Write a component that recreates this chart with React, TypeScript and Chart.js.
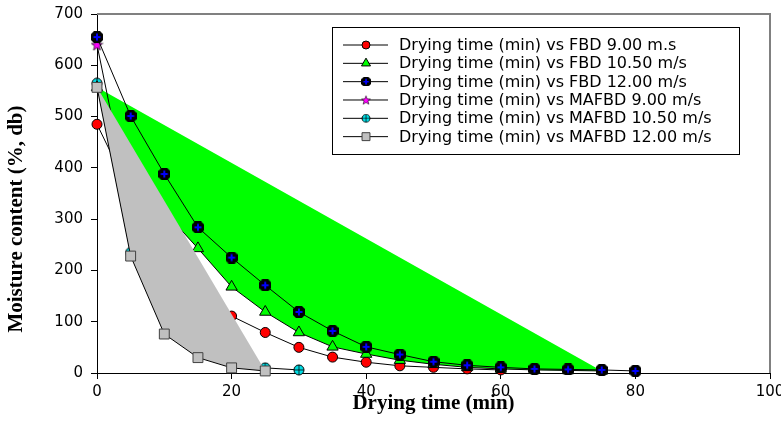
import React, { useEffect, useRef } from 'react';
import { Chart, registerables } from 'chart.js';
import { drawPoint } from 'chart.js/helpers';

Chart.register(...registerables);

// ---- data ----
const SERIES_LABELS = [
  'Drying time (min) vs FBD 9.00 m.s',
  'Drying time (min) vs FBD 10.50 m/s',
  'Drying time (min) vs FBD 12.00 m/s',
  'Drying time (min) vs MAFBD 9.00 m/s',
  'Drying time (min) vs MAFBD 10.50 m/s',
  'Drying time (min) vs MAFBD 12.00 m/s',
];

const TIME_FBD_9 = [0, 5, 10, 15, 20, 25, 30, 35, 40, 45, 50, 55, 60];
const FBD_9 = [485, 350, 230, 155, 111, 79, 50, 31, 21, 14, 11, 8, 6];

const TIME_FBD_10_5 = [0, 5, 10, 15, 20, 25, 30, 35, 40, 45, 50, 55, 60, 65, 70, 75];
const FBD_10_5 = [557, 410, 315, 243, 168, 119, 79, 51, 37, 25, 17, 11, 8, 6, 5, 4];

const TIME_FBD_12 = [0, 5, 10, 15, 20, 25, 30, 35, 40, 45, 50, 55, 60, 65, 70, 75, 80];
const FBD_12 = [655, 501, 388, 284, 225, 171, 119, 82, 51, 36, 22, 15, 11, 8, 7, 6, 4];

const TIME_MAFBD_9 = [0, 5, 10, 15, 20];
const MAFBD_9 = [640, 320, 170, 90, 45];

const TIME_MAFBD_10_5 = [0, 5, 10, 15, 20, 25, 30];
const MAFBD_10_5 = [565, 235, 110, 55, 25, 10, 6];

const TIME_MAFBD_12 = [0, 5, 10, 15, 20, 25];
const MAFBD_12 = [557, 228, 76, 30, 10, 4];

const X_MIN = 0, X_MAX = 100, X_STEP = 20;
const Y_MIN = 0, Y_MAX = 700, Y_STEP = 100;
const X_TITLE = 'Drying time (min)';
const Y_TITLE = 'Moisture content (%, db)';

// ---- marker images ----
function makeCanvas(size: number, draw: (ctx: CanvasRenderingContext2D, s: number) => void) {
  const c = document.createElement('canvas');
  c.width = size;
  c.height = size;
  const ctx = c.getContext('2d')!;
  draw(ctx, size);
  return c;
}

function blueMarker() {
  return makeCanvas(12, (ctx) => {
    ctx.fillStyle = '#000';
    ctx.beginPath();
    const p = [[3, 0], [9, 0], [12, 3], [12, 9], [9, 12], [3, 12], [0, 9], [0, 3]];
    ctx.moveTo(p[0][0], p[0][1]);
    for (let i = 1; i < p.length; i++) ctx.lineTo(p[i][0], p[i][1]);
    ctx.closePath();
    ctx.fill();
    ctx.fillStyle = '#0000ff';
    ctx.fillRect(5, 2.5, 2, 7);
    ctx.fillRect(2.5, 5, 7, 2);
  });
}

function starMarker() {
  return makeCanvas(13, (ctx, s) => {
    const cx = s / 2, cy = s / 2 + 0.5;
    ctx.beginPath();
    for (let i = 0; i < 10; i++) {
      const r = i % 2 === 0 ? 6 : 2.5;
      const a = -Math.PI / 2 + (i * Math.PI) / 5;
      const x = cx + Math.cos(a) * r;
      const y = cy + Math.sin(a) * r;
      if (i === 0) ctx.moveTo(x, y); else ctx.lineTo(x, y);
    }
    ctx.closePath();
    ctx.fillStyle = '#ff00ff';
    ctx.fill();
    ctx.strokeStyle = '#000';
    ctx.lineWidth = 0.7;
    ctx.stroke();
  });
}

function cyanMarker() {
  return makeCanvas(12, (ctx, s) => {
    const c = s / 2;
    ctx.beginPath();
    ctx.arc(c, c, 5, 0, Math.PI * 2);
    ctx.fillStyle = '#00e0e8';
    ctx.fill();
    ctx.strokeStyle = '#000';
    ctx.lineWidth = 1;
    ctx.stroke();
    ctx.beginPath();
    ctx.moveTo(c, 1);
    ctx.lineTo(c, s - 1);
    ctx.moveTo(1, c);
    ctx.lineTo(s - 1, c);
    ctx.lineWidth = 0.8;
    ctx.stroke();
  });
}

const toPoints = (t: number[], v: number[]) => t.map((x, i) => ({ x, y: v[i] }));

// ---- plugins ----
const frameLines = {
  id: 'frameLines',
  afterDatasetsDraw(chart: any) {
    const { ctx, chartArea } = chart;
    ctx.save();
    ctx.strokeStyle = '#808080';
    ctx.lineWidth = 2;
    ctx.beginPath();
    ctx.moveTo(chartArea.left, chartArea.top);
    ctx.lineTo(chartArea.right, chartArea.top);
    ctx.lineTo(chartArea.right, chartArea.bottom);
    ctx.stroke();
    ctx.restore();
  },
};

const yTitle = {
  id: 'yTitle',
  afterDraw(chart: any) {
    const { ctx } = chart;
    ctx.save();
    ctx.translate(17, 219);
    ctx.rotate(-Math.PI / 2);
    ctx.font = "bold 21px 'Liberation Serif', serif";
    ctx.fillStyle = '#000';
    ctx.textAlign = 'center';
    ctx.textBaseline = 'middle';
    ctx.fillText(Y_TITLE, 0, 0);
    ctx.restore();
  },
};

const boxLegend = {
  id: 'boxLegend',
  afterDraw(chart: any) {
    const { ctx } = chart;
    const left = 332;
    const top = 27;
    const w = 407;
    const h = 127;
    ctx.save();
    ctx.fillStyle = '#fff';
    ctx.fillRect(left, top, w, h);
    ctx.strokeStyle = '#000';
    ctx.lineWidth = 1;
    ctx.strokeRect(left + 0.5, top + 0.5, w, h);
    ctx.font = "16px 'DejaVu Sans', sans-serif";
    ctx.textBaseline = 'middle';
    chart.data.datasets.forEach((ds: any, i: number) => {
      const y = top + 18 + i * 18.33;
      ctx.strokeStyle = '#000';
      ctx.lineWidth = 1;
      ctx.beginPath();
      ctx.moveTo(left + 11, y);
      ctx.lineTo(left + 56, y);
      ctx.stroke();
      const mx = left + 34;
      const ps = ds.pointStyle;
      if (ps instanceof HTMLCanvasElement) {
        const sc = 0.8;
        ctx.drawImage(ps, mx - (ps.width * sc) / 2, y - (ps.height * sc) / 2, ps.width * sc, ps.height * sc);
      } else {
        ctx.fillStyle = ds.pointBackgroundColor;
        ctx.strokeStyle = ds.pointBorderColor;
        ctx.lineWidth = 1;
        drawPoint(ctx, { pointStyle: ps, rotation: 0, radius: ds.pointRadius * 0.8, borderWidth: 1 } as any, mx, y);
      }
      ctx.fillStyle = '#000';
      ctx.fillText(ds.label, left + 67, y + 1);
    });
    ctx.restore();
  },
};

export default function App() {
  const ref = useRef<HTMLCanvasElement>(null);

  useEffect(() => {
    const canvas = ref.current!;
    const base = { borderColor: '#000', borderWidth: 1, tension: 0, clip: false as any, pointBorderWidth: 1 };
    const datasets: any[] = [
      {
        ...base,
        label: SERIES_LABELS[0],
        data: toPoints(TIME_FBD_9, FBD_9),
        pointStyle: 'circle',
        pointRadius: 5,
        pointBackgroundColor: '#ff0000',
        pointBorderColor: '#000',
        fill: false,
        order: 5,
      },
      {
        ...base,
        label: SERIES_LABELS[1],
        data: toPoints(TIME_FBD_10_5, FBD_10_5),
        pointStyle: 'triangle',
        pointRadius: 6.5,
        pointBackgroundColor: '#00ff00',
        pointBorderColor: '#000',
        backgroundColor: '#00ff00',
        fill: 'shape',
        order: 3,
      },
      {
        ...base,
        label: SERIES_LABELS[2],
        data: toPoints(TIME_FBD_12, FBD_12),
        pointStyle: blueMarker(),
        pointRadius: 6,
        fill: false,
        order: 1,
      },
      {
        ...base,
        label: SERIES_LABELS[3],
        data: toPoints(TIME_MAFBD_9, MAFBD_9),
        pointStyle: starMarker(),
        pointRadius: 6,
        fill: false,
        order: 2,
      },
      {
        ...base,
        label: SERIES_LABELS[4],
        data: toPoints(TIME_MAFBD_10_5, MAFBD_10_5),
        pointStyle: cyanMarker(),
        pointRadius: 6,
        fill: false,
        order: 4,
      },
      {
        ...base,
        label: SERIES_LABELS[5],
        data: toPoints(TIME_MAFBD_12, MAFBD_12),
        pointStyle: 'rect',
        pointRadius: 7,
        pointBackgroundColor: '#c0c0c0',
        pointBorderColor: '#404040',
        backgroundColor: '#c0c0c0',
        fill: 'shape',
        order: 0,
      },
    ];

    const tickFont = { family: "'DejaVu Sans', sans-serif", size: 15 };
    const titleFont = { family: "'Liberation Serif', serif", size: 21, weight: 'bold' as const };

    const chart = new Chart(canvas, {
      type: 'line',
      data: { datasets },
      plugins: [frameLines, boxLegend, yTitle],
      options: {
        animation: false,
        responsive: false,
        devicePixelRatio: 1,
        layout: { padding: { top: 14, right: 11, left: 0, bottom: 0 } },
        plugins: {
          legend: { display: false },
          tooltip: { enabled: false },
          filler: { propagate: false },
        },
        scales: {
          x: {
            type: 'linear',
            min: X_MIN,
            max: X_MAX,
            ticks: { stepSize: X_STEP, color: '#000', font: tickFont, padding: 4, maxRotation: 0 },
            grid: { display: true, drawOnChartArea: false, drawTicks: true, tickLength: 6, color: '#000' },
            border: { display: true, color: '#000', width: 1 },
            title: { display: true, text: X_TITLE, color: '#000', font: titleFont, padding: { top: 0, bottom: 18 } },
            afterFit: (scale: any) => {
              scale.height = 61;
              scale.paddingLeft = 0;
              scale.paddingRight = 0;
            },
          },
          y: {
            type: 'linear',
            min: Y_MIN,
            max: Y_MAX,
            ticks: { stepSize: Y_STEP, color: '#000', font: tickFont, padding: 8 },
            grid: { display: true, drawOnChartArea: false, drawTicks: true, tickLength: 6, color: '#000' },
            border: { display: true, color: '#000', width: 1 },
            title: { display: false },
            afterFit: (scale: any) => {
              scale.width = 97;
              scale.paddingTop = 0;
              scale.paddingBottom = 0;
            },
          },
        },
      } as any,
    });

    return () => chart.destroy();
  }, []);

  return (
    <canvas
      ref={ref}
      width={781}
      height={434}
      style={{ position: 'fixed', left: 0, top: 0, width: 781, height: 434, background: '#fff' }}
    />
  );
}
